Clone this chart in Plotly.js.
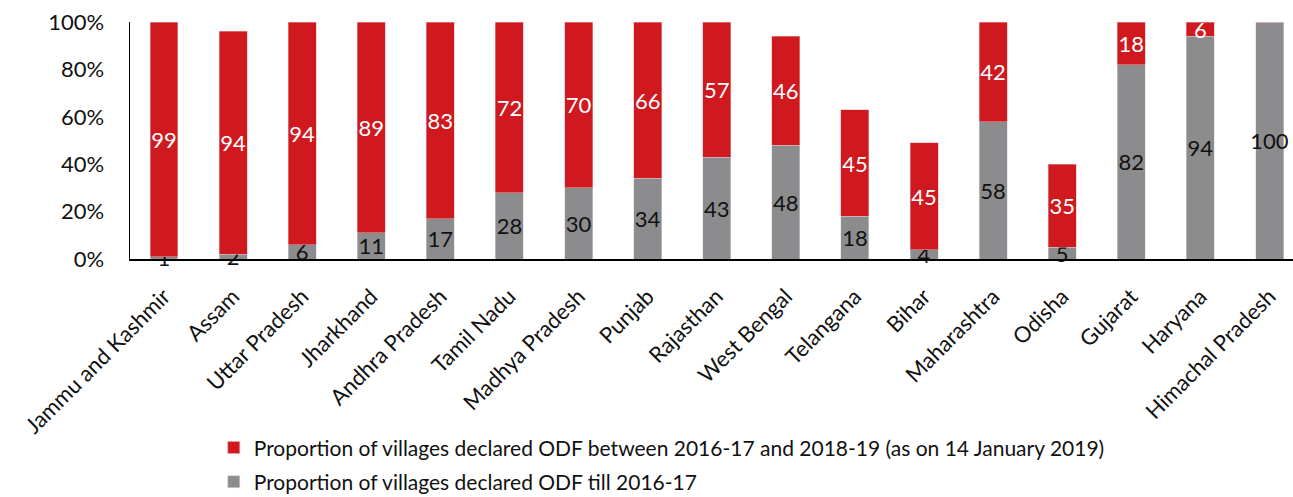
<!DOCTYPE html>
<html>
<head>
<meta charset="utf-8">
<script src="https://cdn.plot.ly/plotly-3.0.1.min.js"></script>
<style>
html,body{margin:0;padding:0;background:#fff;}
#chart{width:1293px;height:497px;}
</style>
</head>
<body>
<div id="chart"></div>
<script>
var states = ["Jammu and Kashmir","Assam","Uttar Pradesh","Jharkhand","Andhra Pradesh","Tamil Nadu","Madhya Pradesh","Punjab","Rajasthan","West Bengal","Telangana","Bihar","Maharashtra","Odisha","Gujarat","Haryana","Himachal Pradesh"];
var tillValues = [1,2,6,11,17,28,30,34,43,48,18,4,58,5,82,94,100];
var betweenValues = [99,94,94,89,83,72,70,66,57,46,45,45,42,35,18,6,0];
var tillName = "Proportion of villages declared ODF till 2016-17";
var betweenName = "Proportion of villages declared ODF between 2016-17 and 2018-19 (as on 14 January 2019)";

var FONT = "Lato, 'Open Sans', sans-serif";
var traces = [
  {
    type: "bar", x: states, y: tillValues, name: tillName, legend: "legend2",
    marker: {color: "#8C8C8E", line: {color: "#d9d9d9", width: 0.5}},
    text: tillValues.map(String), textposition: "inside", insidetextanchor: "middle",
    constraintext: "none", textangle: 0, cliponaxis: false,
    insidetextfont: {family: FONT, size: 22, color: "#111"},
    width: 0.405, hoverinfo: "skip"
  },
  {
    type: "bar", x: states, y: betweenValues, name: betweenName, legend: "legend",
    marker: {color: "#D0191F", line: {color: "#e8b0b0", width: 0.5}},
    text: betweenValues.map(String), textposition: "inside", insidetextanchor: "middle",
    constraintext: "none", textangle: 0,
    insidetextfont: {family: FONT, size: 22, color: "#fff"},
    width: 0.405, hoverinfo: "skip"
  }
];

var legendStyle = function (yPos) {
  return {
    x: 0.072, xanchor: "left", y: yPos, yanchor: "middle",
    orientation: "v", bgcolor: "rgba(0,0,0,0)",
    font: {family: FONT, size: 21, color: "#111"},
    itemwidth: 30, maxheight: 300
  };
};

var layout = {
  width: 1293, height: 497,
  barmode: "stack",
  paper_bgcolor: "#fff", plot_bgcolor: "#fff",
  margin: {l: 130, r: 0, t: 22, b: 238, autoexpand: false},
  font: {family: FONT, color: "#111"},
  showlegend: true,
  legend: legendStyle(-0.797),
  legend2: legendStyle(-0.941),
  xaxis: {
    type: "category", range: [-0.492, 16.34], automargin: false,
    showline: true, linecolor: "#000", linewidth: 2,
    ticks: "", tickangle: -45, showgrid: false, ticklabelstandoff: 14,
    tickfont: {family: FONT, size: 22, color: "#111"}
  },
  yaxis: {
    range: [0, 100], dtick: 20, ticksuffix: "%", automargin: false,
    showline: true, linecolor: "#000", linewidth: 1.5,
    ticks: "", showgrid: false, zeroline: false, ticklabelstandoff: 20,
    tickfont: {family: FONT, size: 22, color: "#111"}
  }
};

Plotly.newPlot("chart", traces, layout, {displayModeBar: false, staticPlot: true});
</script>
</body>
</html>
